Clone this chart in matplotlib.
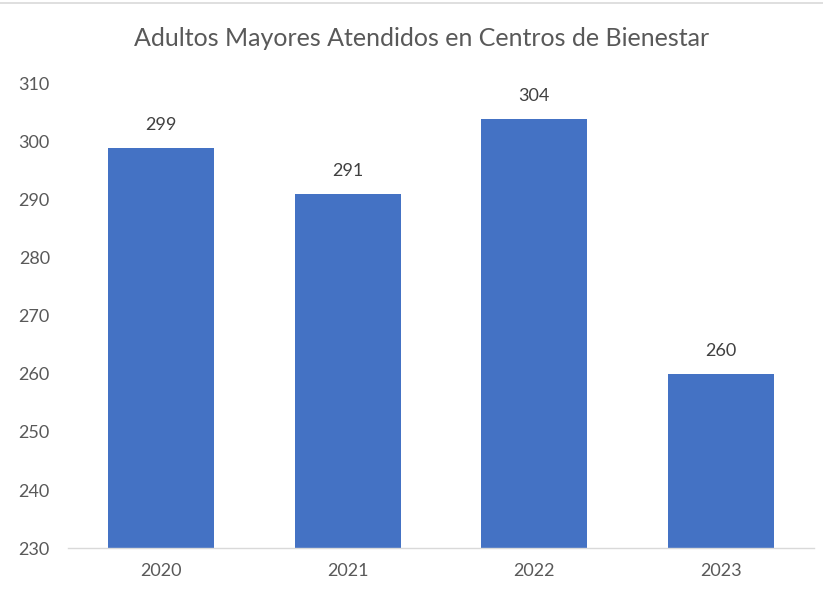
import matplotlib.pyplot as plt
from matplotlib.lines import Line2D

years = ["2020", "2021", "2022", "2023"]
values = [299, 291, 304, 260]
y_ticks = [230, 240, 250, 260, 270, 280, 290, 300, 310]

bar_color = "#4472C4"
text_color = "#595959"

plt.rcParams["font.family"] = ["Lato", "DejaVu Sans"]

fig = plt.figure(figsize=(8.23, 5.98), dpi=100)
ax = fig.add_axes([0.0826, 0.0836, 0.9064, 0.776])

x = range(len(years))
ax.bar(x, values, width=0.57, color=bar_color, zorder=2)

for xi, v in zip(x, values):
    ax.text(xi, v + 2.6, str(v), ha="center", va="bottom", fontsize=13, color="#404040")

ax.set_xlim(-0.5, 3.5)
ax.set_ylim(230, 310)
ax.set_yticks(y_ticks)
ax.set_xticks(list(x))
ax.set_xticklabels(years)
ax.tick_params(axis="both", length=0, labelsize=13, labelcolor=text_color)
ax.tick_params(axis="y", pad=13)
ax.tick_params(axis="x", pad=11)

for side in ["top", "right", "left"]:
    ax.spines[side].set_visible(False)
ax.spines["bottom"].set_color("#D9D9D9")
ax.spines["bottom"].set_linewidth(1)

fig.text(0.512, 0.935, "Adultos Mayores Atendidos en Centros de Bienestar",
         ha="center", va="center", fontsize=18, color=text_color)

fig.add_artist(Line2D([0, 1], [0.995, 0.995], color="#D9D9D9", linewidth=1.2))

fig.savefig("out.png", dpi=100)
